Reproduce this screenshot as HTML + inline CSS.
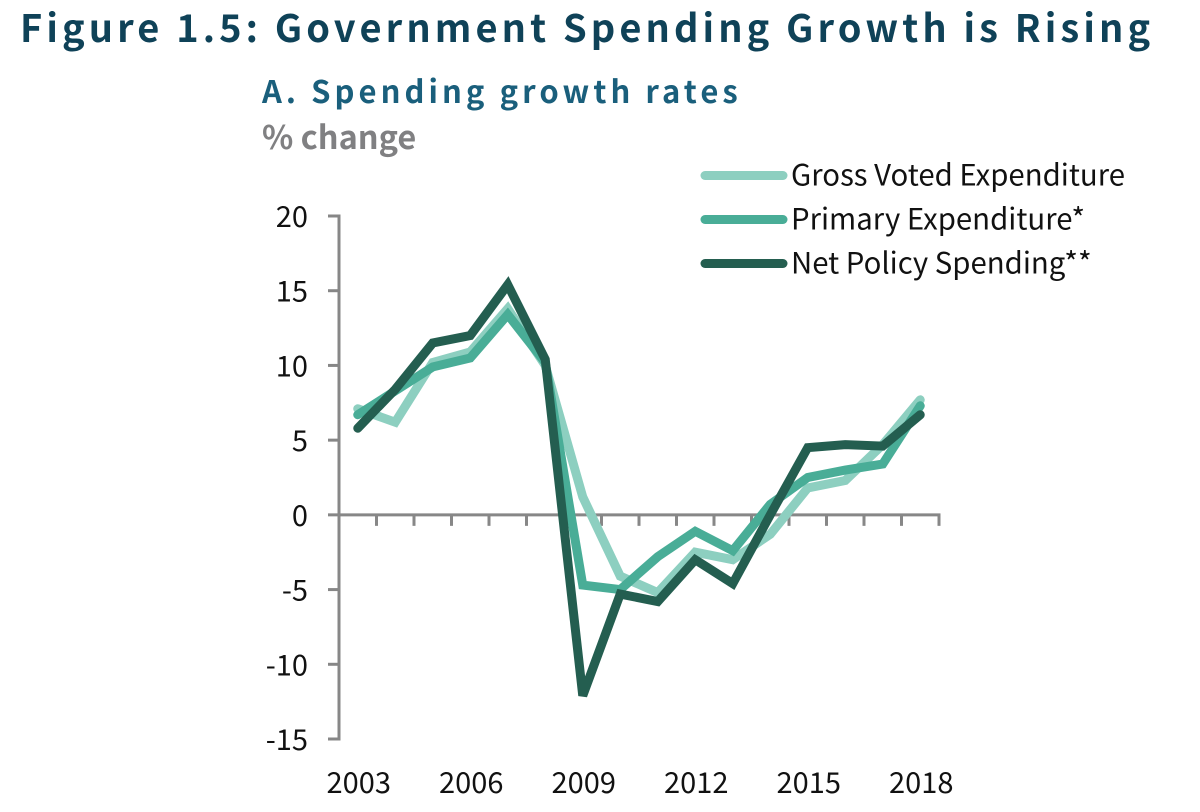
<!DOCTYPE html>
<html lang="en">
<head>
<meta charset="utf-8">
<title>Figure 1.5: Government Spending Growth is Rising</title>
<style>
  html, body { margin: 0; padding: 0; background: #ffffff; }
  #stage { position: relative; width: 1200px; height: 812px; overflow: hidden; background: #fff; }
  svg { position: absolute; left: 0; top: 0; }
  text { font-family: "Noto Sans CJK JP", "Liberation Sans", sans-serif; }
  .tick-label { font-size: 29px; fill: #111; }
  .legend-label { font-size: 29.35px; fill: #111; }
</style>
</head>
<body>
<div id="stage">
<svg id="chart" width="1200" height="812" viewBox="0 0 1200 812" xmlns="http://www.w3.org/2000/svg">
  <text x="20" y="42" font-size="38" font-weight="700" fill="#0f4258" letter-spacing="4.1">Figure 1.5: Government Spending Growth is Rising</text>
  <text x="262" y="103" font-size="31" font-weight="700" fill="#1a5f7c" letter-spacing="4.05">A. Spending growth rates</text>
  <text x="262" y="149" font-size="32.5" font-weight="700" fill="#808082">% change</text>
  <g id="axes"></g>
  <g id="series"></g>
  <g id="legend"></g>
</svg>
</div>
<script>
const years = [2003,2004,2005,2006,2007,2008,2009,2010,2011,2012,2013,2014,2015,2016,2017,2018];
const grossVoted = [7.1,6.2,10.2,10.9,13.8,10.0,1.2,-4.1,-5.2,-2.5,-3.0,-1.3,1.8,2.3,4.7,7.7];
const primaryExp = [6.7,8.3,9.9,10.5,13.4,10.2,-4.7,-5.0,-2.8,-1.1,-2.4,0.7,2.5,3.0,3.4,7.3];
const netPolicy = [5.8,8.4,11.5,12.0,15.4,10.4,-12.1,-5.3,-5.8,-3.0,-4.6,0.0,4.5,4.7,4.6,6.7];
const yTicks = [20,15,10,5,0,-5,-10,-15];
const xTickYears = [2003,2006,2009,2012,2015,2018];
const seriesNames = ["Gross Voted Expenditure","Primary Expenditure*","Net Policy Spending**"];

const NS = "http://www.w3.org/2000/svg";
const plot = { left: 339, right: 939, top: 216, bottom: 739 };
const yMax = 20, yMin = -15;
const AXIS = "#878787";

function xBand(i) {
  return plot.left + (plot.right - plot.left) * (i + 0.5) / years.length;
}
function xEdge(i) {
  return plot.left + (plot.right - plot.left) * i / years.length;
}
function yScale(v) {
  return plot.top + (yMax - v) * (plot.bottom - plot.top) / (yMax - yMin);
}
function make(tag, parent) {
  const el = document.createElementNS(NS, tag);
  parent.appendChild(el);
  return el;
}
function setLine(el, x1, y1, x2, y2, color, width) {
  el.setAttribute("x1", x1);
  el.setAttribute("y1", y1);
  el.setAttribute("x2", x2);
  el.setAttribute("y2", y2);
  el.setAttribute("stroke", color);
  el.setAttribute("stroke-width", width);
}

const axes = document.getElementById("axes");

const yAxis = make("line", axes);
setLine(yAxis, plot.left, plot.top - 1.5, plot.left, plot.bottom + 1.5, AXIS, 3);



const xAxis = make("line", axes);
setLine(xAxis, plot.left, yScale(0), plot.right + 1.5, yScale(0), AXIS, 3);



yTicks.forEach(function (v) {
  const t = make("line", axes);
  setLine(t, plot.left - 11, yScale(v), plot.left, yScale(v), AXIS, 3);
  
  
  const label = make("text", axes);
  label.setAttribute("x", 308);
  label.setAttribute("y", yScale(v) + 11);
  label.setAttribute("text-anchor", "end");
  label.setAttribute("class", "tick-label");
  label.textContent = String(v);
  
  
});

for (let i = 0; i <= years.length; i++) {
  const t = make("line", axes);
  setLine(t, xEdge(i), yScale(0), xEdge(i), yScale(0) + 11, AXIS, 3);
  
  
}

xTickYears.forEach(function (yr) {
  const label = make("text", axes);
  label.setAttribute("x", xBand(years.indexOf(yr)) + 1);
  label.setAttribute("y", 793);
  label.setAttribute("text-anchor", "middle");
  label.setAttribute("class", "tick-label");
  label.textContent = String(yr);
  
  
});

const seriesGroup = document.getElementById("series");
const colors = ["#8dcfc0", "#49ad97", "#245e50"];
const allSeries = [grossVoted, primaryExp, netPolicy];

allSeries.forEach(function (values, s) {
  const line = make("polyline", seriesGroup);
  line.setAttribute("points", values.map(function (v, i) { return xBand(i) + "," + yScale(v); }).join(" "));
  line.setAttribute("fill", "none");
  line.setAttribute("stroke", colors[s]);
  line.setAttribute("stroke-width", 9);
  line.setAttribute("stroke-linejoin", "miter");
  line.setAttribute("stroke-linecap", "round");
  
  
});

const legend = document.getElementById("legend");
seriesNames.forEach(function (name, s) {
  const rowY = 175.5 + s * 44;
  const swatch = make("line", legend);
  setLine(swatch, 705, rowY, 783, rowY, colors[s], 9);
  swatch.setAttribute("stroke-linecap", "round");
  
  
  const label = make("text", legend);
  label.setAttribute("x", 791);
  label.setAttribute("y", rowY + 10);
  label.setAttribute("class", "legend-label");
  label.textContent = name;
  
  
});
</script>
</body>
</html>
